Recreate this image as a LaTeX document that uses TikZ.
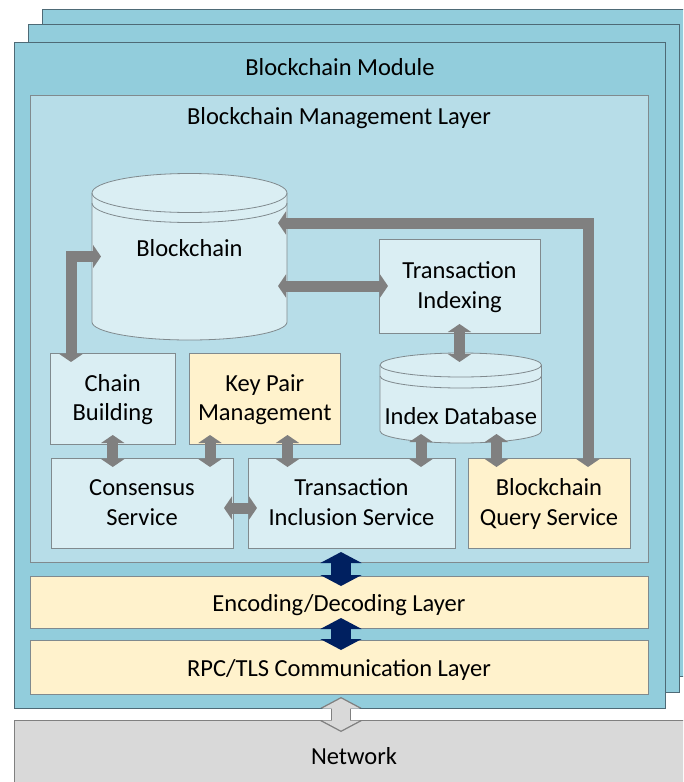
\documentclass[tikz,border=0pt]{standalone}
\usepackage{fontspec}
\setmainfont{Carlito}
\usepackage{tikz}
\usetikzlibrary{arrows.meta}
\definecolor{modblue}{RGB}{146, 205, 220}
\definecolor{modedge}{RGB}{78, 106, 118}
\definecolor{mgmtblue}{RGB}{183, 221, 232}
\definecolor{svcblue}{RGB}{218, 238, 243}
\definecolor{keyyellow}{RGB}{255, 242, 204}
\definecolor{netgray}{RGB}{217, 217, 217}
\definecolor{boxedge}{RGB}{128, 138, 142}
\definecolor{arrgray}{RGB}{128, 128, 128}
\definecolor{navy}{RGB}{0, 32, 96}

\begin{document}
\begin{tikzpicture}[x=1pt, y=1pt,
    every node/.style={font=\fontsize{24.5pt}{29.5pt}\selectfont, inner sep=0pt, outer sep=0pt},
    module/.style={fill=modblue, draw=modedge, line width=0.9pt},
    layer/.style={draw=boxedge, line width=0.8pt, minimum width=618pt, text height=23pt, text depth=5pt},
    svcbox/.style={fill=svcblue, draw=boxedge, line width=0.8pt, align=center, text height=49pt, text depth=5pt},
    keybox/.style={svcbox, fill=keyyellow},
    dbbody/.style={fill=svcblue, draw=boxedge, line width=0.8pt},
    dbline/.style={draw=boxedge, line width=0.8pt},
    grayarr/.style={draw=arrgray, line width=11pt, arrows={Triangle[length=8pt,width=23pt]-Triangle[length=8pt,width=23pt]}, shorten <=-9pt, shorten >=-9pt},
    navyarr/.style={draw=navy, line width=20pt, arrows={Triangle[length=11pt,width=41pt]-Triangle[length=11pt,width=41pt]}, shorten <=-10pt, shorten >=-10pt},
    netarr/.style={draw=arrgray, line width=20pt, arrows={Triangle[length=11pt,width=41pt]-Triangle[length=11pt,width=41pt]}},
    netarrin/.style={draw=netgray, line width=18pt, arrows={Triangle[length=10pt,width=37pt]-Triangle[length=10pt,width=37pt]}, shorten <=1.5pt, shorten >=1.5pt}
]
\useasboundingbox (0,0) rectangle (683,-782);
\clip (0,0) rectangle (683,-782);

% Stacked module copies
\draw[module] (42,-9) rectangle (700,-676);
\draw[module] (28,-24) rectangle (679,-692);
\draw[module] (14,-42) rectangle (665,-708);
\node[anchor=base] (modtitle) at (340,-75) {Blockchain Module};

% Network
\node[fill=netgray, draw=arrgray, line width=0.8pt, minimum width=680pt, minimum height=72pt] (net) at (354,-756) {Network};

% Layers
\node[layer, fill=mgmtblue, minimum height=467pt] (mgmt) at (339,-328.5) {};
\node[anchor=base] (mgmttitle) at (339,-124) {Blockchain Management Layer};
\node[layer, fill=keyyellow, minimum height=52pt] (enc) at (339,-602) {Encoding/Decoding Layer};
\node[layer, fill=keyyellow, minimum height=54pt] (rpc) at (339,-667) {RPC/TLS Communication Layer};

% Services
\node[svcbox, minimum width=161pt, minimum height=94pt] (tix) at (459.5,-286) {Transaction\\Indexing};
\node[svcbox, minimum width=125.5pt, minimum height=91pt] (chain) at (112.75,-398.5) {Chain\\Building};
\node[keybox, minimum width=150.5pt, minimum height=91pt] (kp) at (264.75,-398.5) {Key Pair\\Management};
\node[svcbox, minimum width=182pt, minimum height=90pt] (cons) at (142,-503) {Consensus\\Service};
\node[svcbox, minimum width=207pt, minimum height=90pt] (ti) at (351.5,-503) {Transaction\\Inclusion Service};
\node[keybox, minimum width=162pt, minimum height=90pt] (bq) at (549,-503) {Blockchain\\Query Service};

% Blockchain store
\node[minimum width=195pt, minimum height=167pt] (bc) at (189.5,-256.5) {};
\draw[dbbody] (92,-193) -- (92,-322) arc[start angle=180, end angle=360, x radius=97.5, y radius=18]
  -- (287,-193) arc[start angle=0, end angle=180, x radius=97.5, y radius=19.5] -- cycle;
\draw[dbline] (92,-193) arc[start angle=180, end angle=360, x radius=97.5, y radius=19.5];
\draw[dbline] (92,-203) arc[start angle=180, end angle=360, x radius=97.5, y radius=19.5];
\node[anchor=base] (bctext) at (189.5,-256.7) {Blockchain};

% Index store
\node[minimum width=161.5pt, minimum height=90pt] (idx) at (460.75,-398) {};
\draw[dbbody] (380,-365) -- (380,-431) arc[start angle=180, end angle=360, x radius=80.75, y radius=12]
  -- (541.5,-365) arc[start angle=0, end angle=180, x radius=80.75, y radius=12] -- cycle;
\draw[dbline] (380,-365) arc[start angle=180, end angle=360, x radius=80.75, y radius=12];
\draw[dbline] (380,-376) arc[start angle=180, end angle=360, x radius=80.75, y radius=12];
\node[anchor=base] (idxtext) at (460.75,-424) {Index Database};

% Gray links
\draw[grayarr] (bc.west) -| ([xshift=-41.75pt]chain.north);
\draw[grayarr] (bc.east |- tix.west) -- (tix.west);
\draw[grayarr] ([xshift=39pt]bq.north) |- ([yshift=33.5pt]bc.east);
\draw[grayarr] (tix.south) -- ([xshift=-1.25pt]idx.north);
\draw[grayarr] (chain.south) -- (chain.south |- cons.north);
\draw[grayarr] ([xshift=-54.75pt]kp.south) -- ([xshift=68pt]cons.north);
\draw[grayarr] ([xshift=22.75pt]kp.south) -- ([xshift=-64pt]ti.north);
\draw[grayarr] ([xshift=-39.75pt]idx.south) -- ([xshift=69.5pt]ti.north);
\draw[grayarr] ([xshift=35.75pt]idx.south) -- ([xshift=-52.5pt]bq.north);
\draw[grayarr] ([yshift=-5pt]cons.east) -- ([yshift=-5pt]ti.west);

% Layer links
\draw[navyarr] ([xshift=2pt]mgmt.south) -- ([xshift=2pt]enc.north);
\draw[navyarr] ([xshift=2pt]enc.south) -- ([xshift=2pt]rpc.north);
\draw[netarr] ([xshift=2pt,yshift=-3pt]rpc.south) -- ([xshift=-13pt,yshift=-12pt]net.north);
\draw[netarrin] ([xshift=2pt,yshift=-3pt]rpc.south) -- ([xshift=-13pt,yshift=-12pt]net.north);
\end{tikzpicture}
\end{document}
